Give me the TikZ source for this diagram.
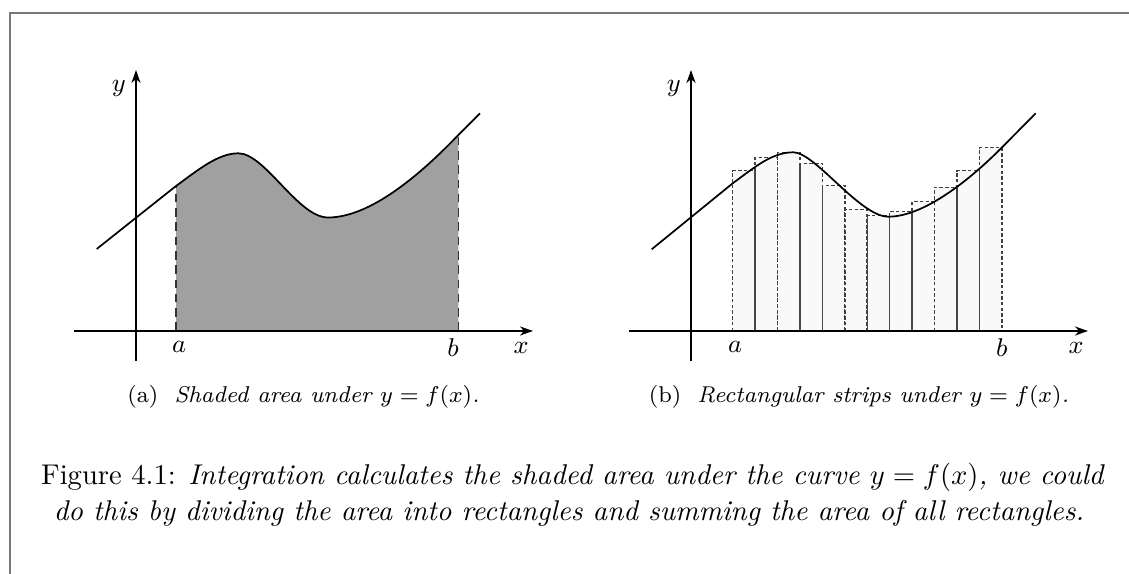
\documentclass[tikz,border=0pt]{standalone}
\usetikzlibrary{arrows.meta}
\definecolor{shadegray}{RGB}{160,160,160}
\definecolor{framegray}{RGB}{120,120,120}
\begin{document}
\begin{tikzpicture}[x=0.35pt,y=-0.35pt,
  >={Stealth[length=4.6pt,width=3.2pt]},
  axis/.style={line width=0.55pt},
  curve/.style={line width=0.6pt},
  edge/.style={densely dashed,gray!40!black,line width=0.5pt},
  strip/.style={dash pattern=on 1.2pt off 0.8pt,black!75,fill=gray!5,line width=0.55pt},
  lowline/.style={gray!55!black,line width=0.5pt},
  lbl/.style={font=\small},
  subcap/.style={font=\footnotesize,anchor=base}]
\useasboundingbox (0,0) rectangle (1129,574);
% frame
\draw[framegray,line width=0.5pt] (1129,13) -- (10,13) -- (10,574);

% (a) shaded area
\fill[shadegray] (176,331) -- (176,186)
  .. controls (198,170) and (218,153.3) .. (238.3,153.3)
  .. controls (265,153.3) and (298,217.5) .. (328,217.5)
  .. controls (370,217.5) and (420,175) .. (458.3,135) -- (458.3,331) -- cycle;
\draw[edge] (176,331) -- (176,186);
\draw[edge] (458.3,331) -- (458.3,135);
\draw[curve] (96.7,249) -- (176,186)
  .. controls (198,170) and (218,153.3) .. (238.3,153.3)
  .. controls (265,153.3) and (298,217.5) .. (328,217.5)
  .. controls (370,217.5) and (420,175) .. (458.3,135) -- (480,113.3);
\draw[axis,->] (74,331) -- (533,331) coordinate (xtipa);
\draw[axis,->] (136,361) -- (136,70) coordinate (ytipa);
\node[lbl,below left] (ylaba) at (ytipa) {$y$};
\node[lbl] (alaba) at (179,347) {$a$};
\node[lbl] (blaba) at (453,348) {$b$};
\node[lbl] (xlaba) at (521,348) {$x$};
\node[subcap] (capa) at (303.5,403) {(a)\ \ \textit{Shaded area under $y=f(x)$.}};

% (b) rectangular strips
\foreach \i/\t in {0/170.7,1/157.3,2/152.3,3/163.3,4/185.7,5/209.3,6/215.7,7/211.7,8/201.7,9/187.3,10/170.7,11/147.7}
  \draw[strip] ({732.7+22.42*\i},331) rectangle ({732.7+22.42*(\i+1)},\t);
\foreach \i/\t in {1/170.7,3/163.3,4/185.7,6/215.7,7/215.7,8/211.7,10/187.3,11/170.7}
  \draw[lowline] ({732.7+22.42*\i},331) -- ({732.7+22.42*\i},\t);
\draw[curve] (651.7,249.3) -- (732.7,183.3)
  .. controls (755,167) and (772,152.3) .. (793.3,152.3)
  .. controls (815,152.3) and (860,216.7) .. (888.3,216.7)
  .. controls (925,216.7) and (972,177.7) .. (1001.7,147.7) -- (1035.7,113.3);
\draw[axis,->] (629,331) -- (1088,331) coordinate (xtipb);
\draw[axis,->] (691,361) -- (691,70) coordinate (ytipb);
\node[lbl,below left] (ylabb) at (ytipb) {$y$};
\node[lbl] (alabb) at (735,347) {$a$};
\node[lbl] (blabb) at (1001.7,348) {$b$};
\node[lbl] (xlabb) at (1076,348) {$x$};
\node[subcap] (capb) at (859,403) {(b)\ \ \textit{Rectangular strips under $y=f(x)$.}};

% caption
\node[anchor=base] (capline1) at (573,485) {Figure 4.1: \textit{Integration calculates the shaded area under the curve $y=f(x)$, we could}};
\node[anchor=base] (capline2) at (569,520) {\textit{do this by dividing the area into rectangles and summing the area of all rectangles.}};
\end{tikzpicture}
\end{document}
